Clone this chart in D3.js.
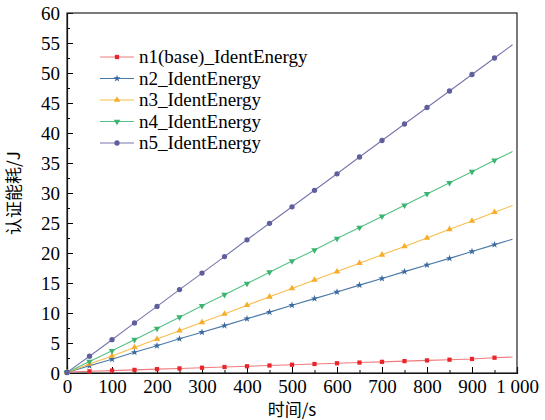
<!DOCTYPE html>
<html>
<head>
<meta charset="utf-8">
<script src="https://cdn.jsdelivr.net/npm/d3@7"></script>
</head>
<body style="margin:0">
<div id="chart"></div>
<script>
// time in seconds (last point has no marker)
var times = [0, 50, 100, 150, 200, 250, 300, 350, 400, 450, 500, 550, 600, 650, 700, 750, 800, 850, 900, 950, 990];

var n1 = [0.15, 0.28, 0.4, 0.52, 0.64, 0.76, 0.88, 1.0, 1.12, 1.25, 1.38, 1.5, 1.62, 1.74, 1.86, 1.98, 2.1, 2.22, 2.34, 2.55, 2.66];
var n2 = [0.1, 1.2, 2.3, 3.45, 4.55, 5.7, 6.8, 7.9, 9.05, 10.15, 11.3, 12.4, 13.5, 14.65, 15.75, 16.9, 18.0, 19.1, 20.25, 21.4, 22.3];
var n3 = [0.1, 1.5, 2.85, 4.25, 5.65, 7.05, 8.45, 9.85, 11.3, 12.7, 14.1, 15.5, 16.9, 18.3, 19.7, 21.1, 22.5, 23.95, 25.35, 26.8, 27.9];
var n4 = [0.1, 1.9, 3.7, 5.55, 7.4, 9.3, 11.2, 13.05, 14.9, 16.8, 18.65, 20.5, 22.4, 24.25, 26.1, 27.95, 29.85, 31.7, 33.55, 35.45, 36.9];
var n5 = [0.1, 2.8, 5.55, 8.35, 11.1, 13.9, 16.65, 19.4, 22.2, 24.95, 27.7, 30.45, 33.2, 36.0, 38.75, 41.5, 44.25, 47.0, 49.75, 52.5, 54.7];

var seriesNames = ["n1(base)_IdentEnergy", "n2_IdentEnergy", "n3_IdentEnergy", "n4_IdentEnergy", "n5_IdentEnergy"];
var xTicks = [0, 100, 200, 300, 400, 500, 600, 700, 800, 900, 1000];
var yTicks = [0, 5, 10, 15, 20, 25, 30, 35, 40, 45, 50, 55, 60];

var serif = "Liberation Serif";

var series = [
  { name: seriesNames[0], values: n1, line: "#f07a7c", fill: "#e8262a", symbol: d3.symbolSquare, size: 18, rot: 0 },
  { name: seriesNames[1], values: n2, line: "#4a78a8", fill: "#3a6aa0", symbol: d3.symbolStar, size: 16, rot: 0 },
  { name: seriesNames[2], values: n3, line: "#f7be4a", fill: "#f5ad2a", symbol: d3.symbolTriangle, size: 18, rot: 0 },
  { name: seriesNames[3], values: n4, line: "#55c285", fill: "#3cb371", symbol: d3.symbolTriangle, size: 18, rot: 180 },
  { name: seriesNames[4], values: n5, line: "#7676ae", fill: "#5f5f9e", symbol: d3.symbolCircle, size: 22, rot: 0 }
];

var margin = {top: 13, right: 28, bottom: 47, left: 67};
var width = 545 - margin.left - margin.right;
var height = 420 - margin.top - margin.bottom;

var svg = d3.select("#chart")
  .append("svg")
    .attr("width", 545)
    .attr("height", 420)
    .attr("font-family", serif)
  .append("g")
    .attr("transform", "translate(" + margin.left + "," + margin.top + ")");

var x = d3.scaleLinear().domain([0, 1000]).range([0, width]);
var y = d3.scaleLinear().domain([0, 60]).range([height, 0]);

// minor ticks
svg.append("g")
  .attr("transform", "translate(0," + height + ")")
  .call(d3.axisBottom(x).tickValues(d3.range(50, 1000, 100)).tickSize(-3).tickFormat(""))
  .call(function(g) { g.select(".domain").remove(); });
svg.append("g")
  .call(d3.axisLeft(y).tickValues(d3.range(2.5, 60, 5)).tickSize(-3).tickFormat(""))
  .call(function(g) { g.select(".domain").remove(); });

// major axes
var xAxis = svg.append("g")
  .attr("transform", "translate(0," + height + ")")
  .call(d3.axisBottom(x).tickValues(xTicks).tickSize(-6).tickPadding(7)
    .tickFormat(function(d) { return d === 1000 ? "1 000" : d; }));
var yAxis = svg.append("g")
  .call(d3.axisLeft(y).tickValues(yTicks).tickSize(-6).tickPadding(7));

[xAxis, yAxis].forEach(function(g) {
  g.attr("font-family", serif).attr("font-size", 19);
  g.selectAll("text").attr("fill", "#000");
  g.selectAll("line").attr("stroke", "#000");
  g.select(".domain").attr("stroke", "#000").attr("stroke-width", 1.2);
});

// frame
svg.append("rect")
  .attr("width", width)
  .attr("height", height)
  .attr("fill", "none")
  .attr("stroke", "#222")
  .attr("stroke-width", 1.2);

var line = d3.line()
  .x(function(d, i) { return x(times[i]); })
  .y(function(d) { return y(d); });

series.forEach(function(s) {
  svg.append("path")
    .datum(s.values)
    .attr("fill", "none")
    .attr("stroke", s.line)
    .attr("stroke-width", 1.1)
    .attr("d", line);

  svg.append("g")
    .selectAll("path")
    .data(s.values.slice(0, s.values.length - 1))
    .enter()
    .append("path")
      .attr("d", d3.symbol().type(s.symbol).size(s.size))
      .attr("transform", function(d, i) {
        return "translate(" + x(times[i]) + "," + y(d) + ") rotate(" + s.rot + ")";
      })
      .attr("fill", s.fill);
});

// legend
var legend = svg.append("g")
  .attr("transform", "translate(33,44)");

series.forEach(function(s, i) {
  var row = legend.append("g").attr("transform", "translate(0," + (i * 21.5) + ")");
  row.append("line")
    .attr("x1", 0).attr("x2", 34)
    .attr("y1", 0).attr("y2", 0)
    .attr("stroke", s.line)
    .attr("stroke-width", 1.2);
  row.append("path")
    .attr("d", d3.symbol().type(s.symbol).size(s.size))
    .attr("transform", "translate(17,0) rotate(" + s.rot + ")")
    .attr("fill", s.fill);
  row.append("text")
    .attr("x", 39)
    .attr("y", 6)
    .attr("font-family", serif)
    .attr("font-size", 19)
    .text(s.name);
});

// axis titles
svg.append("text")
  .attr("x", width / 2)
  .attr("y", height + 43)
  .attr("text-anchor", "middle")
  .attr("font-family", "Noto Sans CJK SC")
  .attr("font-size", 17)
  .text("时间/s");

svg.append("text")
  .attr("transform", "rotate(-90)")
  .attr("x", -height / 2)
  .attr("y", -47)
  .attr("text-anchor", "middle")
  .attr("font-family", "Noto Sans CJK SC")
  .attr("font-size", 17)
  .text("认证能耗/J");
</script>
</body>
</html>
